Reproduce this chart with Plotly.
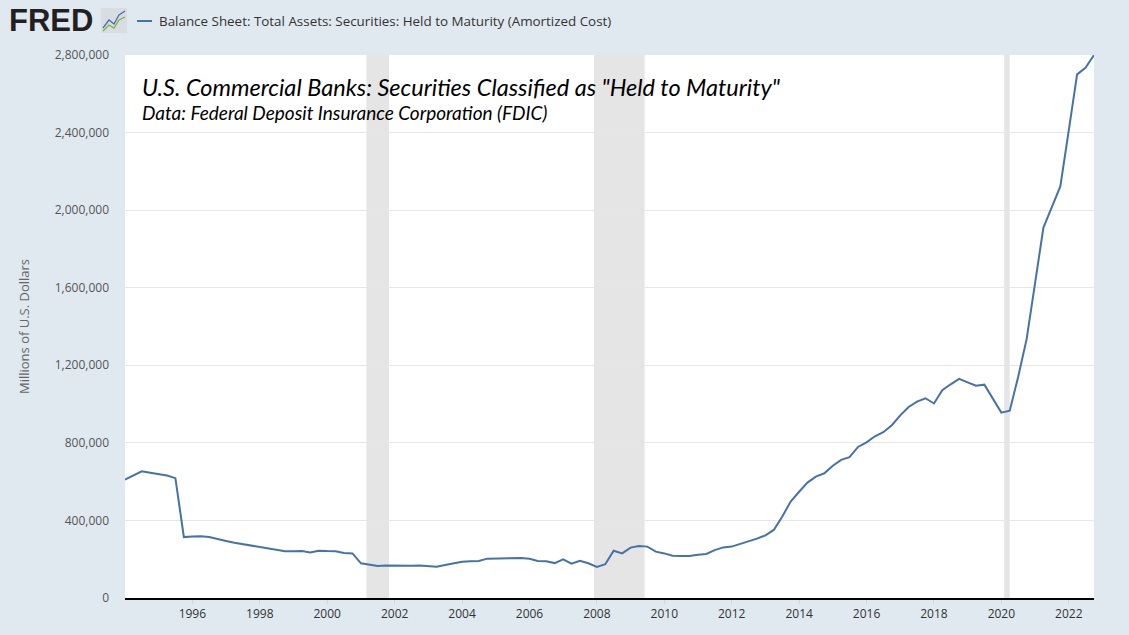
import pandas as pd
import plotly.graph_objects as go

# Quarterly observations, 1994 Q1 .. 2022 Q4 (millions of U.S. dollars)
dates = pd.date_range("1994-01-01", "2022-10-01", freq="QS").strftime("%Y-%m-%d").tolist()
values = [
    610000, 632000, 653000, 646000,    # 1994
    640000, 632000, 618000, 314000,    # 1995
    317000, 318000, 314000, 302000,    # 1996
    294000, 285000, 278000, 270000,    # 1997
    261000, 256000, 249000, 241000,    # 1998
    241000, 242000, 235000, 244000,    # 1999
    242000, 241000, 232000, 230000,    # 2000
    179000, 172000, 165000, 167000,    # 2001
    166000, 167000, 166000, 168000,    # 2002
    166000, 161000, 170000, 178000,    # 2003
    187000, 189000, 191000, 203000,    # 2004
    203000, 204000, 205000, 206000,    # 2005
    202000, 191000, 189000, 180000,    # 2006
    199000, 177000, 192000, 179000,    # 2007
    160000, 174000, 244000, 230000,    # 2008
    260000, 268000, 265000, 239000,    # 2009
    230000, 218000, 216000, 217000,    # 2010
    223000, 227000, 247000, 261000,    # 2011
    265000, 278000, 290000, 306000,    # 2012
    323000, 351000, 419000, 497000,    # 2013
    548000, 595000, 626000, 643000,    # 2014
    682000, 712000, 726000, 779000,    # 2015
    803000, 834000, 855000, 891000,    # 2016
    942000, 985000, 1013000, 1030000,  # 2017
    1003000, 1071000, 1102000, 1130000,  # 2018
    1112000, 1095000, 1100000, 1028000,  # 2019
    956000, 966000, 1140000, 1335000,    # 2020
    1617000, 1910000, 2016000, 2122000,  # 2021
    2413000, 2700000, 2734000, 2800000,  # 2022
]

recession_starts = ["2001-03-01", "2007-12-01", "2020-02-01"]
recession_ends = ["2001-11-01", "2009-06-01", "2020-04-01"]

x_tick_years = list(range(1996, 2023, 2))
x_tick_vals = [f"{y}-01-01" for y in x_tick_years]
x_tick_text = [str(y) for y in x_tick_years]
y_tick_vals = list(range(0, 2800001, 400000))
y_tick_text = [f"{v:,}" for v in y_tick_vals]

series_name = "Balance Sheet: Total Assets: Securities: Held to Maturity (Amortized Cost)"
chart_title = 'U.S. Commercial Banks: Securities Classified as "Held to Maturity"'
chart_subtitle = "Data: Federal Deposit Insurance Corporation (FDIC)"
y_title = "Millions of U.S. Dollars"

LINE_COLOR = "#4572a7"
BG = "#e1e9f0"

fig = go.Figure()
fig.add_trace(go.Scatter(
    x=dates, y=values, mode="lines", name=series_name,
    line=dict(color=LINE_COLOR, width=2), showlegend=False,
))

for s, e in zip(recession_starts, recession_ends):
    fig.add_vrect(x0=s, x1=e, fillcolor="#e5e5e5", opacity=1, line_width=0, layer="below")

W, H = 1129, 635
ML, MR, MT, MB = 125, 35, 55, 37
PW = W - ML - MR
PH = H - MT - MB

def px_x(px):
    return (px - ML) / PW

def px_y(py):
    return 1 - (py - MT) / PH

fig.update_layout(
    width=W, height=H,
    margin=dict(l=ML, r=MR, t=MT, b=MB, pad=0),
    paper_bgcolor=BG, plot_bgcolor="#ffffff",
    font=dict(family="Open Sans, sans-serif", color="#333333", size=12),
    xaxis=dict(
        type="date", range=[dates[0], dates[-1]],
        tickvals=x_tick_vals, ticktext=x_tick_text,
        showgrid=False, zeroline=False,
        showline=True, linecolor="#000000", linewidth=2,
        ticks="outside", ticklen=4, tickcolor="#ccd6eb", tickwidth=1,
        tickfont=dict(size=12, color="#333333"),
    ),
    yaxis=dict(
        range=[0, 2800000], tickvals=y_tick_vals, ticktext=y_tick_text,
        showgrid=True, gridcolor="#e6e6e6", gridwidth=1,
        zeroline=False, showline=False,
        ticks="", ticklabelstandoff=15,
        tickfont=dict(size=12, color="#555555"),
        title=dict(text=y_title, font=dict(size=13, color="#666666"), standoff=22),
    ),
)

# Chart title and subtitle inside the plot area
fig.add_annotation(
    xref="paper", yref="paper", x=px_x(140), y=px_y(71), xanchor="left", yanchor="top",
    text=chart_title, showarrow=False, align="left",
    font=dict(family="Lato, sans-serif", size=23.5, color="#000000", style="italic"),
)
fig.add_annotation(
    xref="paper", yref="paper", x=px_x(140), y=px_y(99), xanchor="left", yanchor="top",
    text=chart_subtitle, showarrow=False, align="left",
    font=dict(family="Lato, sans-serif", size=19, color="#000000", style="italic"),
)

# FRED logo text
fig.add_annotation(
    xref="paper", yref="paper", x=px_x(7), y=px_y(21), xanchor="left", yanchor="middle",
    text="<b>FRED</b>", showarrow=False,
    font=dict(family="Liberation Sans, Arial, sans-serif", size=31, color="#231f20"),
)
# small logo icon
fig.add_shape(type="rect", xref="paper", yref="paper",
              x0=px_x(101), x1=px_x(127), y0=px_y(33), y1=px_y(8),
              fillcolor="#d9dde1", line=dict(width=0), layer="above")
fig.add_shape(type="path", xref="paper", yref="paper",
              path=f"M {px_x(103)},{px_y(28)} L {px_x(109)},{px_y(20)} L {px_x(114)},{px_y(24)} L {px_x(119)},{px_y(15)} L {px_x(125)},{px_y(11)}",
              line=dict(color="#4572a7", width=1.3), layer="above")
fig.add_shape(type="path", xref="paper", yref="paper",
              path=f"M {px_x(103)},{px_y(31)} L {px_x(109)},{px_y(25)} L {px_x(114)},{px_y(28)} L {px_x(119)},{px_y(20)} L {px_x(125)},{px_y(17)}",
              line=dict(color="#7cb342", width=1.3), layer="above")

# Legend (manual)
fig.add_shape(type="line", xref="paper", yref="paper",
              x0=px_x(137), x1=px_x(152), y0=px_y(21), y1=px_y(21),
              line=dict(color=LINE_COLOR, width=2))
fig.add_annotation(
    xref="paper", yref="paper", x=px_x(157), y=px_y(21), xanchor="left", yanchor="middle",
    text=series_name, showarrow=False,
    font=dict(family="Open Sans, sans-serif", size=13.4, color="#333333"),
)

fig.write_html(
    "out.html",
    config={"displayModeBar": False},
    post_script=f"document.body.style.margin='0';document.body.style.background='{BG}';",
)
